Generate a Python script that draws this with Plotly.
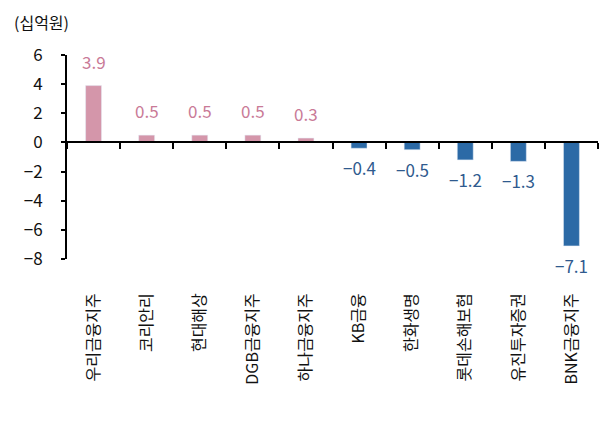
import plotly.graph_objects as go

categories = ["우리금융지주", "코리안리", "현대해상", "DGB금융지주", "하나금융지주",
              "KB금융", "한화생명", "롯데손해보험", "유진투자증권", "BNK금융지주"]
values = [3.9, 0.5, 0.5, 0.5, 0.3, -0.4, -0.5, -1.2, -1.3, -7.1]
y_ticks = [6, 4, 2, 0, -2, -4, -6, -8]
unit_label = "(십억원)"

POS_BAR = "#D496AA"
NEG_BAR = "#2C6AA6"
POS_TXT = "#C97A97"
NEG_TXT = "#2F5A8E"
FONT = "Noto Sans CJK KR"

def fmt(v):
    s = f"{v:.1f}"
    return s.replace("-", "\u2212")

fig = go.Figure()
fig.add_trace(go.Bar(
    x=categories, y=values,
    marker_color=[POS_BAR if v >= 0 else NEG_BAR for v in values],
    xaxis="x", yaxis="y", hoverinfo="x+y",
))
# invisible trace carrying the category labels at the bottom
fig.add_trace(go.Bar(
    x=categories, y=values, opacity=0, hoverinfo="skip", showlegend=False,
    xaxis="x2", yaxis="y",
))

annotations = [dict(
    text=unit_label, xref="paper", yref="paper", x=-55/531, y=1 + 47/204,
    xanchor="left", yanchor="top", showarrow=False,
    font=dict(family=FONT, size=16, color="#111111"),
)]
for c, v in zip(categories, values):
    annotations.append(dict(
        x=c, y=v, xref="x", yref="y", text=fmt(v), showarrow=False,
        yanchor="bottom" if v >= 0 else "top",
        yshift=10 if v >= 0 else -5,
        font=dict(family=FONT, size=17, color=POS_TXT if v >= 0 else NEG_TXT),
    ))

fig.update_layout(
    width=607, height=421,
    margin=dict(l=59, r=17, t=47, b=170),
    paper_bgcolor="white", plot_bgcolor="white",
    showlegend=False,
    bargap=0.7,
    font=dict(family=FONT, color="#111111"),
    xaxis=dict(
        type="category", categoryorder="array", categoryarray=categories,
        anchor="free", position=8/14,
        showline=True, linecolor="black", linewidth=2,
        ticks="outside", tickson="boundaries", ticklen=6, tickwidth=2, tickcolor="black",
        showticklabels=False, showgrid=False, zeroline=False,
    ),
    xaxis2=dict(
        type="category", categoryorder="array", categoryarray=categories,
        overlaying="x", anchor="y", side="bottom",
        showline=False, ticks="", showgrid=False, zeroline=False,
        tickangle=-90, tickfont=dict(family=FONT, size=16, color="#111111"),
        ticklabelstandoff=30,
    ),
    yaxis=dict(
        range=[-8, 6], tickvals=y_ticks, ticktext=[fmt(t).replace(".0", "") for t in y_ticks],
        showline=True, linecolor="black", linewidth=2,
        ticks="outside", ticklen=4, tickwidth=2, tickcolor="black",
        showgrid=False, zeroline=False, ticklabelstandoff=15,
        tickfont=dict(family=FONT, size=17, color="#111111"),
    ),
    annotations=annotations,
)

fig.write_html("out.html")
